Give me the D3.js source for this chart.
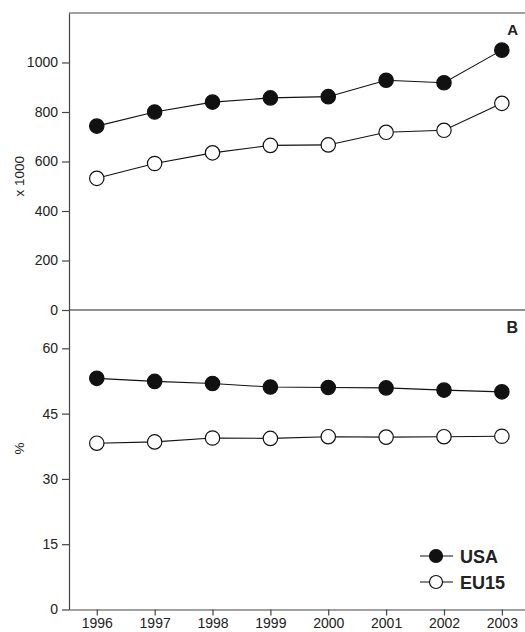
<!DOCTYPE html>
<html>
<head>
<meta charset="utf-8">
<script src="https://cdn.jsdelivr.net/npm/d3@7"></script>
<style>
  body { margin: 0; background: #fff; }
  text { font-family: "Liberation Sans", Arial, sans-serif; fill: #222; }
</style>
</head>
<body>
<div id="chart"></div>
<script>
const years = [1996, 1997, 1998, 1999, 2000, 2001, 2002, 2003];
// panel A: x 1000
const usaA = [743, 800, 840, 857, 862, 928, 918, 1050];
const euA = [532, 592, 635, 665, 667, 718, 726, 835];
// panel B: %
const usaB = [53.1, 52.4, 51.9, 51.1, 51.0, 50.9, 50.4, 50.0];
const euB = [38.2, 38.5, 39.4, 39.3, 39.7, 39.6, 39.7, 39.8];
const ticksA = [0, 200, 400, 600, 800, 1000];
const ticksB = [0, 15, 30, 45, 60];

const width = 525, height = 632;
const left = 69, right = 525;

const svg = d3.select("#chart").append("svg")
  .attr("width", width).attr("height", height);

const x = d3.scaleLinear().domain([1995.52, 2003.4]).range([left, right]);
const yA = d3.scaleLinear().domain([0, 1200]).range([310, 13]);
const yB = d3.scaleLinear().domain([0, 68.8]).range([609.5, 310]);

const axisColor = "#444";

function styleAxis(g) {
  g.selectAll("path,line").attr("stroke", axisColor).attr("stroke-width", 1.2);
  g.selectAll("text").style("font-size", "14px").attr("fill", "#222");
}

// left axes
svg.append("g").attr("transform", `translate(${left},0)`)
  .call(d3.axisLeft(yA).tickValues(ticksA).tickFormat(d3.format("d")).tickSize(7).tickPadding(4).tickSizeOuter(0))
  .call(styleAxis);
svg.append("g").attr("transform", `translate(${left},0)`)
  .call(d3.axisLeft(yB).tickValues(ticksB).tickSize(7).tickPadding(4).tickSizeOuter(0))
  .call(styleAxis);

// bottom axis
svg.append("g").attr("transform", `translate(0,${yB(0)})`)
  .call(d3.axisBottom(x).tickValues(years).tickFormat(d3.format("d")).tickSize(6).tickPadding(3).tickSizeOuter(0))
  .call(styleAxis);

// frame lines: top and panel separator
svg.append("line").attr("x1", left).attr("x2", right).attr("y1", yA(1200)).attr("y2", yA(1200))
  .attr("stroke", axisColor).attr("stroke-width", 1.2);
svg.append("line").attr("x1", left).attr("x2", right).attr("y1", yA(0)).attr("y2", yA(0))
  .attr("stroke", "#222").attr("stroke-width", 1.2);

// axis titles
svg.append("text").attr("transform", `translate(24,${yA(540)}) rotate(-90)`)
  .attr("text-anchor", "middle").style("font-size", "13.5px").text("x 1000");
svg.append("text").attr("transform", `translate(24,${yB(37)}) rotate(-90)`)
  .attr("text-anchor", "middle").style("font-size", "13.5px").text("%");

// panel letters
svg.append("text").attr("x", 518).attr("y", 35).attr("text-anchor", "end")
  .style("font-size", "15px").style("font-weight", "bold").text("A");
svg.append("text").attr("x", 518).attr("y", 333).attr("text-anchor", "end")
  .style("font-size", "16px").style("font-weight", "bold").text("B");

function drawSeries(vals, y, filled) {
  const pts = years.map((d, i) => [d, vals[i]]);
  svg.append("path").datum(pts)
    .attr("fill", "none").attr("stroke", "#111").attr("stroke-width", 1.1)
    .attr("d", d3.line().x(d => x(d[0])).y(d => y(d[1])));
  svg.append("g").selectAll("circle").data(pts).join("circle")
    .attr("cx", d => x(d[0])).attr("cy", d => y(d[1])).attr("r", 7.2)
    .attr("fill", filled ? "#111" : "#fff")
    .attr("stroke", "#111").attr("stroke-width", 1.2);
}

drawSeries(usaA, yA, true);
drawSeries(euA, yA, false);
drawSeries(usaB, yB, true);
drawSeries(euB, yB, false);

// legend
const legend = [{ name: "USA", filled: true, y: 556 }, { name: "EU15", filled: false, y: 582 }];
const lg = svg.append("g").selectAll("g").data(legend).join("g");
lg.append("line").attr("x1", 420).attr("x2", 453).attr("y1", d => d.y).attr("y2", d => d.y)
  .attr("stroke", "#111").attr("stroke-width", 1.2);
lg.append("circle").attr("cx", 436).attr("cy", d => d.y).attr("r", 6.5)
  .attr("fill", d => d.filled ? "#111" : "#fff").attr("stroke", "#111").attr("stroke-width", 1.2);
lg.append("text").attr("x", 460).attr("y", d => d.y + 6.5)
  .style("font-size", "18px").style("font-weight", "bold").text(d => d.name);
</script>
</body>
</html>
